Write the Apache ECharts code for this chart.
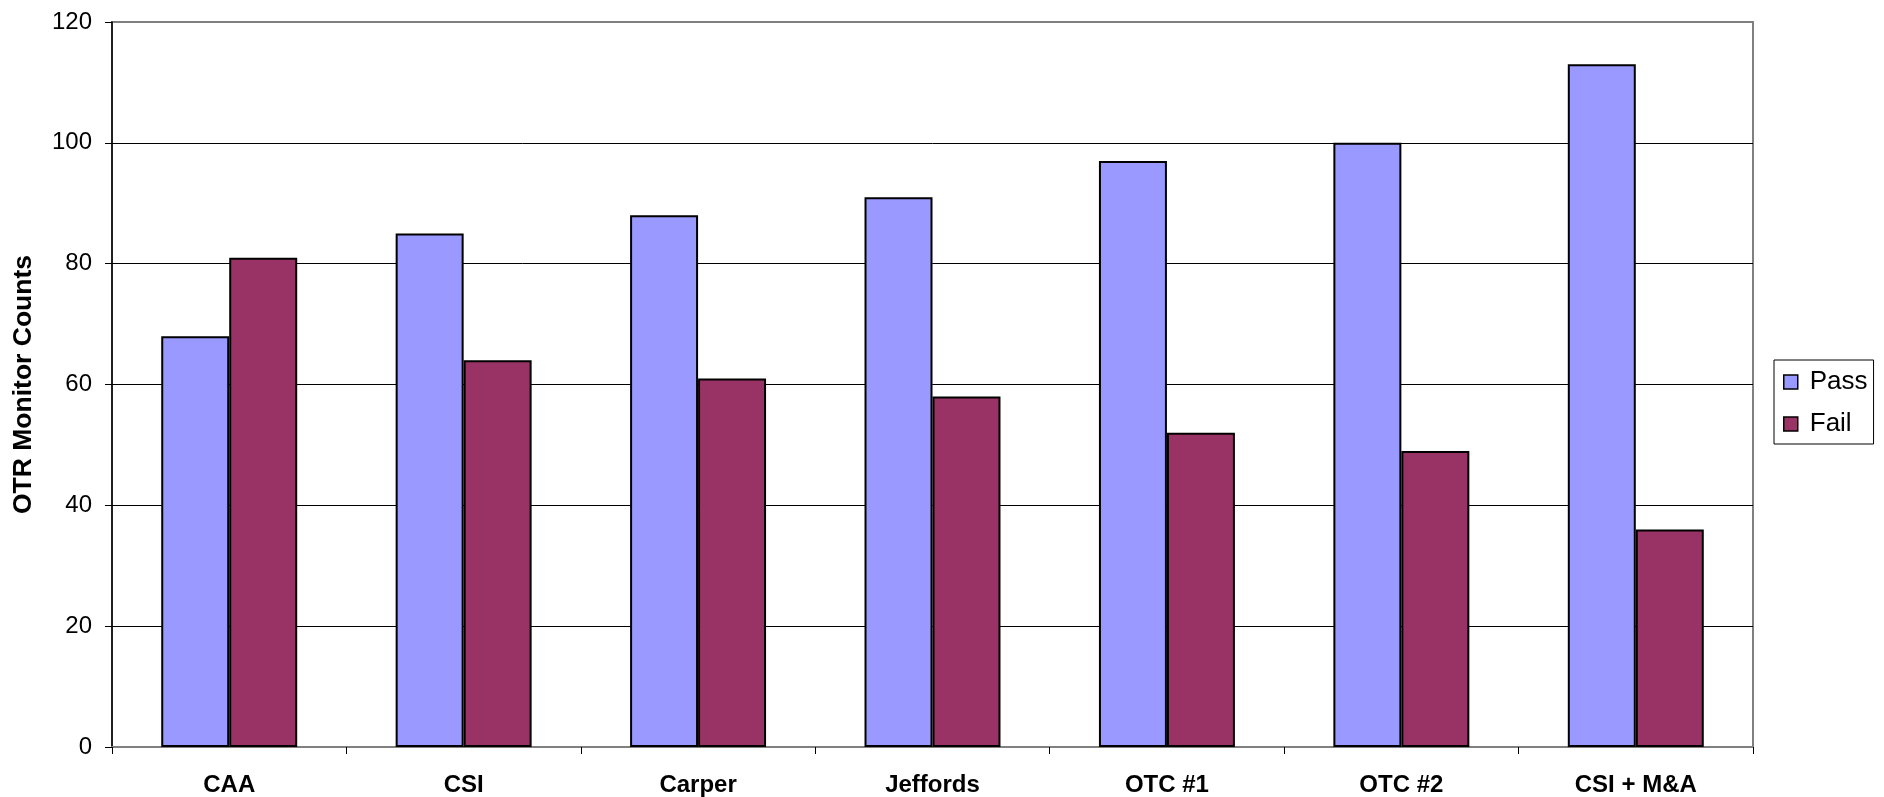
<!DOCTYPE html>
<html>
<head>
<meta charset="utf-8">
<script src="https://cdn.jsdelivr.net/npm/echarts@6/dist/echarts.min.js"></script>
<style>
  html, body { margin: 0; padding: 0; background: #fff; }
  #chart { width: 1884px; height: 797px; }
</style>
</head>
<body>
<div id="chart"></div>
<script>
// data
var categories = ["CAA", "CSI", "Carper", "Jeffords", "OTC #1", "OTC #2", "CSI + M&A"];
var passCounts = [68, 85, 88, 91, 97, 100, 113];
var failCounts = [81, 64, 61, 58, 52, 49, 36];
var yTicks = { min: 0, max: 120, interval: 20 };

var chart = echarts.init(document.getElementById("chart"));
var font = "Liberation Sans, Arial, sans-serif";

var option = {
  animation: false,
  backgroundColor: "#fff",
  grid: {
    left: 112,
    right: 131,
    top: 22,
    bottom: 49,
    show: true,
    borderColor: "#808080",
    borderWidth: 2
  },
  legend: {
    orient: "vertical",
    left: 1774,
    top: 360,
    padding: [9, 6, 7, 9],
    itemGap: 16,
    itemWidth: 14,
    itemHeight: 14,
    borderColor: "#000",
    borderWidth: 1,
    icon: "rect",
    itemStyle: { borderColor: "#000", borderWidth: 1.5 },
    textStyle: { fontFamily: font, fontSize: 26, color: "#000", padding: [0, 0, 0, 7] },
    data: ["Pass", "Fail"]
  },
  xAxis: {
    type: "category",
    data: categories,
    axisLine: { lineStyle: { color: "#808080", width: 2 } },
    axisTick: { show: true, length: 7, lineStyle: { color: "#000" } },
    axisLabel: { fontFamily: font, fontSize: 24, fontWeight: "bold", color: "#000", margin: 26 }
  },
  yAxis: {
    type: "value",
    min: yTicks.min,
    max: yTicks.max,
    interval: yTicks.interval,
    name: "OTR Monitor Counts",
    nameLocation: "middle",
    nameGap: 75,
    nameTextStyle: { fontFamily: font, fontSize: 26.5, fontWeight: "bold", color: "#000" },
    axisLine: { show: true, lineStyle: { color: "#000", width: 1.5 } },
    axisTick: { show: true, length: 7, lineStyle: { color: "#000" } },
    axisLabel: { fontFamily: font, fontSize: 24, color: "#000", margin: 20 },
    splitLine: { show: true, showMaxLine: false, lineStyle: { color: "#000", width: 1 } }
  },
  series: [
    {
      name: "Pass",
      type: "bar",
      data: passCounts,
      barGap: "0%",
      barCategoryGap: "42%",
      itemStyle: { color: "#9999FF", borderColor: "#000", borderWidth: 2 }
    },
    {
      name: "Fail",
      type: "bar",
      data: failCounts,
      itemStyle: { color: "#993366", borderColor: "#000", borderWidth: 2 }
    }
  ]
};

chart.setOption(option);
</script>
</body>
</html>
